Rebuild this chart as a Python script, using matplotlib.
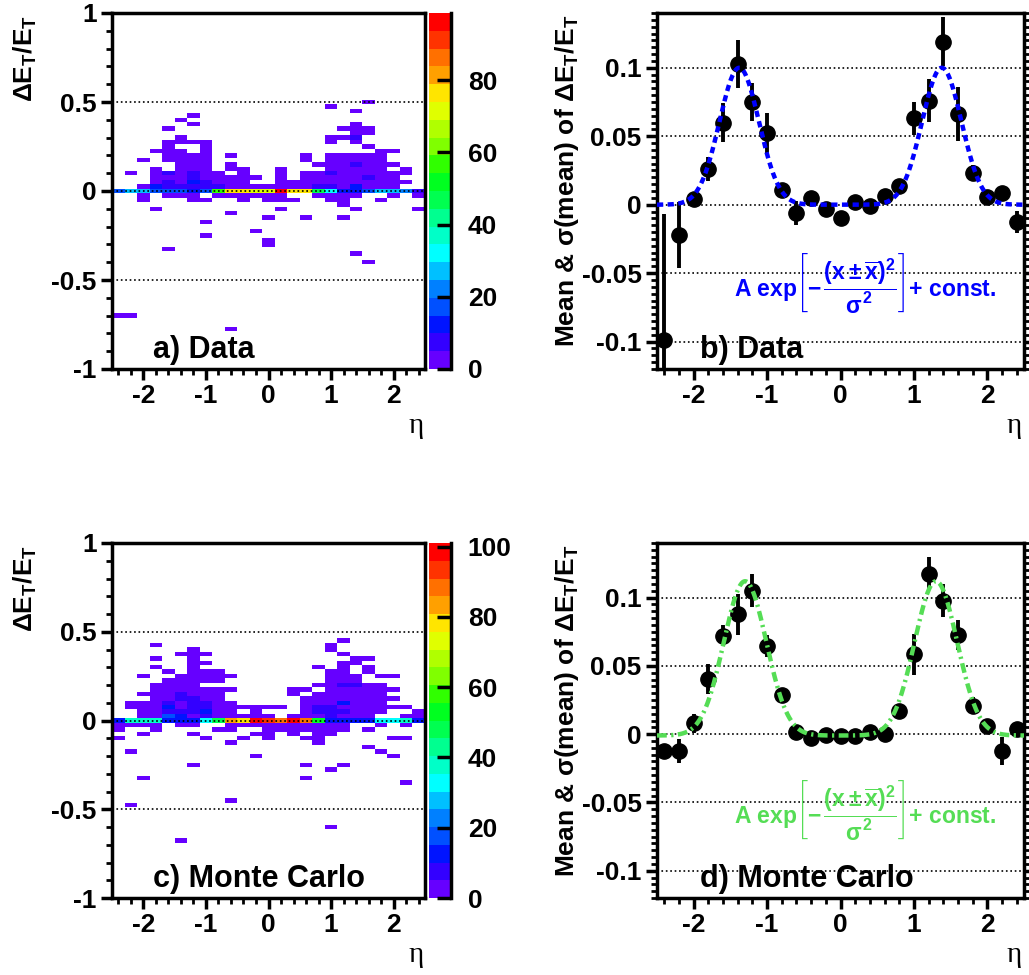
import numpy as np
import matplotlib
matplotlib.use("Agg")
import matplotlib.pyplot as plt
from matplotlib.colors import ListedColormap, BoundaryNorm
from matplotlib.ticker import MultipleLocator, FixedLocator

plt.rcParams['font.family'] = ['Liberation Sans', 'DejaVu Sans']
plt.rcParams['font.weight'] = 'bold'
plt.rcParams['axes.unicode_minus'] = False
plt.rcParams['mathtext.fontset'] = 'custom'
plt.rcParams['mathtext.rm'] = 'Liberation Sans:bold'
plt.rcParams['mathtext.it'] = 'Liberation Sans:bold'
plt.rcParams['mathtext.bf'] = 'Liberation Sans:bold'
plt.rcParams['mathtext.sf'] = 'Liberation Sans:bold'

# ---- 2D histograms: 25 eta bins (-2.5..2.5), rows of 0.025 in dE/E centred on 0
# rows: (row index k -> dE = 0.025*k, list of eta bin indices with ~1 entry)
a_rows = [
    (20, [20]), (19, [17]), (18, [19]), (17, [6]), (16, [5]), (15, [6, 19]),
    (14, [4, 18, 19, 20]), (13, [19, 20]), (12, [5, 17, 18, 19]),
    (11, [4, 5, 6, 7, 17, 19]), (10, [4, 7, 20]), (9, [3, 4, 5, 7, 21, 22]),
    (8, [4, 5, 6, 7, 9, 15, 17, 18, 19, 20, 21]),
    (7, [2, 4, 5, 6, 7, 15, 17, 18, 19, 20, 21]),
    (6, [5, 6, 7, 9, 16, 17, 18, 19, 20, 21, 22]),
    (5, [3, 5, 6, 7, 9, 10, 13, 17, 18, 19, 20, 21, 23]),
    (4, [1, 3, 4, 5, 6, 7, 8, 10, 13, 15, 16, 17, 18, 19, 20, 21, 22, 23]),
    (3, [3, 4, 5, 6, 7, 8, 9, 10, 11, 13, 15, 16, 17, 18, 19, 20, 21, 22]),
    (2, [3, 4, 5, 6, 7, 8, 9, 10, 13, 14, 15, 16, 17, 18, 19, 20, 21, 22, 23]),
    (1, [2, 3, 4, 5, 6, 7, 8, 9, 10, 11, 12, 13, 14, 15, 16, 17, 18, 19, 20, 21, 22]),
    (-1, [2, 4, 5, 6, 8, 9, 10, 11, 12, 13, 16, 17, 18, 19, 22, 24]),
    (-2, [2, 6, 7, 10, 12, 13, 14, 17, 18, 21]), (-3, [18]),
    (-4, [3, 13, 19, 24]), (-5, [9]), (-6, [12, 15, 18]), (-7, [7]),
    (-9, [11]), (-10, [7]), (-11, [12]), (-12, [12]), (-13, [4]),
    (-14, [19]), (-16, [20]), (-28, [0, 1]), (-31, [9]),
]
a_zero = [16, 27, 27, 19, 15, 15, 12, 15, 55, 76, 76, 71, 71, 97, 76, 76,
          47, 30, 14, 14, 19, 27, 27, 20, 8]
# (k, eta bin, entries) for the bluer cells
a_dense = [(12, 19, 6), (6, 19, 6), (4, 4, 6), (4, 6, 6), (4, 17, 6),
           (3, 6, 8), (3, 20, 6), (2, 4, 6), (2, 6, 10), (2, 7, 6),
           (1, 3, 14), (1, 4, 7), (1, 5, 7), (1, 6, 7), (1, 7, 7), (1, 8, 9),
           (1, 16, 6), (1, 17, 6), (1, 19, 13)]

c_rows = [
    (18, [18]), (17, [3, 17]), (16, [6, 17]), (15, [5, 6, 7, 18]),
    (14, [3, 6, 19, 20]), (13, [6, 7, 18, 19]), (12, [3, 6, 16, 18, 20]),
    (11, [4, 6, 7, 8, 17, 18, 20]),
    (10, [2, 5, 6, 7, 8, 9, 17, 18, 19, 21, 22]),
    (9, [4, 5, 6, 7, 8, 17, 18, 19]),
    (8, [3, 4, 5, 6, 16, 17, 18, 19, 20, 21]),
    (7, [3, 4, 5, 6, 7, 8, 9, 14, 15, 17, 18, 19, 20, 21, 22]),
    (6, [2, 3, 4, 5, 6, 7, 8, 14, 16, 17, 18, 19, 20, 21]),
    (5, [3, 4, 5, 6, 7, 8, 15, 16, 17, 18, 19, 20, 21, 22]),
    (4, [1, 2, 3, 4, 5, 6, 7, 8, 9, 15, 16, 17, 18, 19, 20, 21]),
    (3, [1, 2, 3, 4, 5, 6, 7, 8, 9, 10, 11, 12, 13, 15, 16, 17, 18, 19, 20, 21, 22, 23]),
    (2, [2, 3, 4, 5, 6, 7, 8, 9, 11, 15, 16, 17, 18, 19, 20, 21, 24]),
    (1, [2, 3, 4, 5, 6, 7, 8, 9, 10, 11, 12, 14, 15, 16, 17, 18, 19, 20, 23, 24]),
    (-1, [0, 1, 2, 3, 5, 6, 9, 10, 11, 12, 13, 14, 15, 16, 17, 18, 21, 23]),
    (-2, [0, 3, 8, 9, 12, 13, 14, 15, 16, 17, 18, 20]),
    (-3, [2, 6, 11, 12, 14, 16, 17]), (-4, [0, 7, 10, 12, 15, 16, 22, 23]),
    (-5, [9, 16]), (-6, [20]), (-7, [1, 21]), (-8, [11, 22]),
    (-10, [6, 15, 18]), (-11, [17]), (-13, [2, 15]), (-14, [23]),
    (-18, [9]), (-19, [1]), (-24, [17]), (-27, [5]),
]
c_zero = [15, 38, 38, 38, 15, 12, 12, 33, 48, 85, 80, 100, 95, 88, 100, 88,
          55, 15, 13, 13, 15, 33, 33, 38, 15]
c_dense = [(8, 18, 6), (8, 19, 6), (6, 5, 7), (5, 5, 7), (5, 6, 6),
           (4, 4, 7), (4, 6, 6), (4, 7, 7), (4, 18, 12), (3, 4, 12), (3, 6, 7),
           (3, 7, 8), (3, 16, 7), (3, 17, 7), (2, 4, 8), (2, 5, 10), (2, 6, 8),
           (2, 7, 12), (2, 16, 8), (2, 17, 10), (2, 18, 8), (1, 4, 20),
           (1, 5, 12), (1, 7, 10), (1, 17, 8)]

# ---- profiles
eta = [-2.4, -2.2, -2.0, -1.8, -1.6, -1.4, -1.2, -1.0, -0.8, -0.6, -0.4, -0.2,
       0.0, 0.2, 0.4, 0.6, 0.8, 1.0, 1.2, 1.4, 1.6, 1.8, 2.0, 2.2, 2.4]
b_mean = [-0.099, -0.022, 0.004, 0.026, 0.060, 0.103, 0.075, 0.052, 0.0105,
          -0.006, 0.005, -0.003, -0.010, 0.002, -0.001, 0.006, 0.014, 0.063,
          0.076, 0.119, 0.066, 0.023, 0.0056, 0.0086, -0.0127]
b_err = [0.092, 0.024, 0.003, 0.009, 0.014, 0.0175, 0.014, 0.015, 0.004,
         0.009, 0.003, 0.003, 0.003, 0.003, 0.003, 0.003, 0.004, 0.012,
         0.0157, 0.0178, 0.0196, 0.006, 0.003, 0.003, 0.008]
d_mean = [-0.0123, -0.0123, 0.0081, 0.0405, 0.0722, 0.0877, 0.105, 0.0644,
          0.029, 0.0015, -0.0025, -0.0007, -0.0017, -0.0012, 0.0017, 0.0,
          0.0167, 0.0585, 0.1174, 0.0978, 0.0725, 0.0209, 0.0061, -0.0123, 0.0037]
d_err = [0.004, 0.009, 0.007, 0.011, 0.008, 0.015, 0.012, 0.008, 0.003,
         0.002, 0.002, 0.002, 0.002, 0.002, 0.002, 0.002, 0.003, 0.015,
         0.012, 0.012, 0.011, 0.006, 0.003, 0.010, 0.003]
# fit parameters (A, xbar, sigma, const)
b_fit = (0.100, 1.38, 0.38, 0.0)
d_fit = (0.113, 1.30, 0.41, -0.001)

palette = ['#6600ff', '#3300ff', '#0014ff', '#0050ff', '#0080ff', '#00c0ff',
           '#00ffff', '#00ffc8', '#00ff90', '#00ff50', '#00ff20', '#30ff00',
           '#80ff00', '#b0ff00', '#e0ff00', '#ffe500', '#ffa000', '#ff7000',
           '#ff3300', '#ff0000']

TICK = 19
W, H = 1029, 975
fig = plt.figure(figsize=(W / 100, H / 100), dpi=100)


def fbox(x0, y0, x1, y1):
    return [x0 / W, 1 - y1 / H, (x1 - x0) / W, (y1 - y0) / H]


def style_axes(ax, right_ticks=False):
    for s in ax.spines.values():
        s.set_linewidth(2.5)
    ax.tick_params(which='major', direction='out', length=8, width=2.5,
                   labelsize=TICK, pad=3, right=right_ticks, top=False)
    ax.tick_params(which='minor', direction='out', length=4, width=2,
                   right=right_ticks, top=False)
    ax.yaxis.grid(True, which='major', linestyle=':', color='k', lw=1.2)
    ax.set_axisbelow(False)
    ax.set_xlim(-2.5, 2.5)
    ax.xaxis.set_major_locator(FixedLocator([-2, -1, 0, 1, 2]))
    ax.xaxis.set_minor_locator(MultipleLocator(0.2))


def draw_hist(ax, cax, rows, zero, dense, vmax, cticks):
    grid = np.zeros((81, 25))
    for k, bins in rows:
        for i in bins:
            grid[k + 40, i] = 1
    grid[40, :] = zero
    for k, i, n in dense:
        grid[k + 40, i] = n
    xe = np.linspace(-2.5, 2.5, 26)
    ye = np.linspace(-1.0125, 1.0125, 82)
    cmap = ListedColormap(palette)
    norm = BoundaryNorm(np.linspace(0, vmax, 21), ncolors=20)
    m = ax.pcolormesh(xe, ye, np.ma.masked_equal(grid, 0), cmap=cmap, norm=norm)
    style_axes(ax)
    ax.set_ylim(-1, 1)
    ax.yaxis.set_major_locator(FixedLocator([-1, -0.5, 0, 0.5, 1]))
    ax.yaxis.set_minor_locator(MultipleLocator(0.1))
    ax.set_yticklabels(['-1', '-0.5', '0', '0.5', '1'])
    cb = fig.colorbar(m, cax=cax)
    cb.outline.set_visible(False)
    cb.set_ticks(cticks)
    cb.ax.tick_params(direction='in', length=10, width=2.5, labelsize=TICK,
                      pad=12, right=True, left=False)
    cb.ax.minorticks_off()
    cb.ax.plot([1, 1], [0, 1], transform=cb.ax.transAxes, color='k', lw=2.5,
               clip_on=False)


def fit_curve(x, A, xbar, sig, c):
    return A * np.exp(-(x + xbar) ** 2 / sig ** 2) + A * np.exp(-(x - xbar) ** 2 / sig ** 2) + c


def draw_profile(ax, mean, err, fit, color, ls, formula_y):
    ax.errorbar(eta, mean, yerr=err, fmt='o', color='k', ms=11, elinewidth=2.8,
                capsize=0, zorder=3)
    xs = np.linspace(-2.5, 2.5, 400)
    ax.plot(xs, fit_curve(xs, *fit), color=color, lw=3.2, linestyle=ls, zorder=4)
    style_axes(ax, right_ticks=True)
    ax.set_ylim(-0.12, 0.14)
    ax.yaxis.set_major_locator(FixedLocator([-0.1, -0.05, 0, 0.05, 0.1]))
    ax.yaxis.set_minor_locator(MultipleLocator(0.005))
    ax.set_yticklabels(['-0.1', '-0.05', '0', '0.05', '0.1'])
    ax.text(0.33, formula_y,
            r'A exp$\left[-\,\dfrac{(x\pm\overline{x})^2}{\sigma^2}\right]$+ const.',
            color=color, fontsize=16.5, ha='center', va='center', zorder=5)


ax_a = fig.add_axes(fbox(112, 13, 425, 369))
cax_a = fig.add_axes(fbox(429, 13, 451, 369))
ax_b = fig.add_axes(fbox(657, 13, 1024, 369))
ax_c = fig.add_axes(fbox(112, 543, 425, 898))
cax_c = fig.add_axes(fbox(429, 543, 451, 898))
ax_d = fig.add_axes(fbox(657, 543, 1024, 898))

draw_hist(ax_a, cax_a, a_rows, a_zero, a_dense, 98.6, [0, 20, 40, 60, 80])
draw_hist(ax_c, cax_c, c_rows, c_zero, c_dense, 101, [0, 20, 40, 60, 80, 100])
draw_profile(ax_b, b_mean, b_err, b_fit, '#0000ff', (0, (1.4, 1.0)), -0.058)
draw_profile(ax_d, d_mean, d_err, d_fit, '#55dd55', (0, (2.2, 1.0, 0.5, 1.0)), -0.056)

panel_labels = [(ax_a, 0.13, 'a) Data'), (ax_b, 0.117, 'b) Data'),
                (ax_c, 0.13, 'c) Monte Carlo'), (ax_d, 0.117, 'd) Monte Carlo')]
for ax, x, txt in panel_labels:
    ax.text(x, 0.032, txt, transform=ax.transAxes, fontsize=22,
            fontweight='bold', va='baseline', ha='left', zorder=6)
    ax.text(0.995, -0.18, 'η', transform=ax.transAxes, fontsize=21,
            fontweight='normal', family=['Liberation Serif', 'DejaVu Serif'],
            ha='right', va='baseline')

ylab_left = r'$\Delta$E$_{\rm T}$/E$_{\rm T}$'
ylab_right = r'Mean & $\sigma$(mean) of $\Delta$E$_{\rm T}$/E$_{\rm T}$'
for top in (15, 545):
    fig.text(25 / W, 1 - top / H, ylab_left, rotation=90, fontsize=TICK,
             ha='center', va='top')
    fig.text(567 / W, 1 - top / H, ylab_right, rotation=90, fontsize=TICK,
             ha='center', va='top')

fig.savefig('out.png', dpi=100)
